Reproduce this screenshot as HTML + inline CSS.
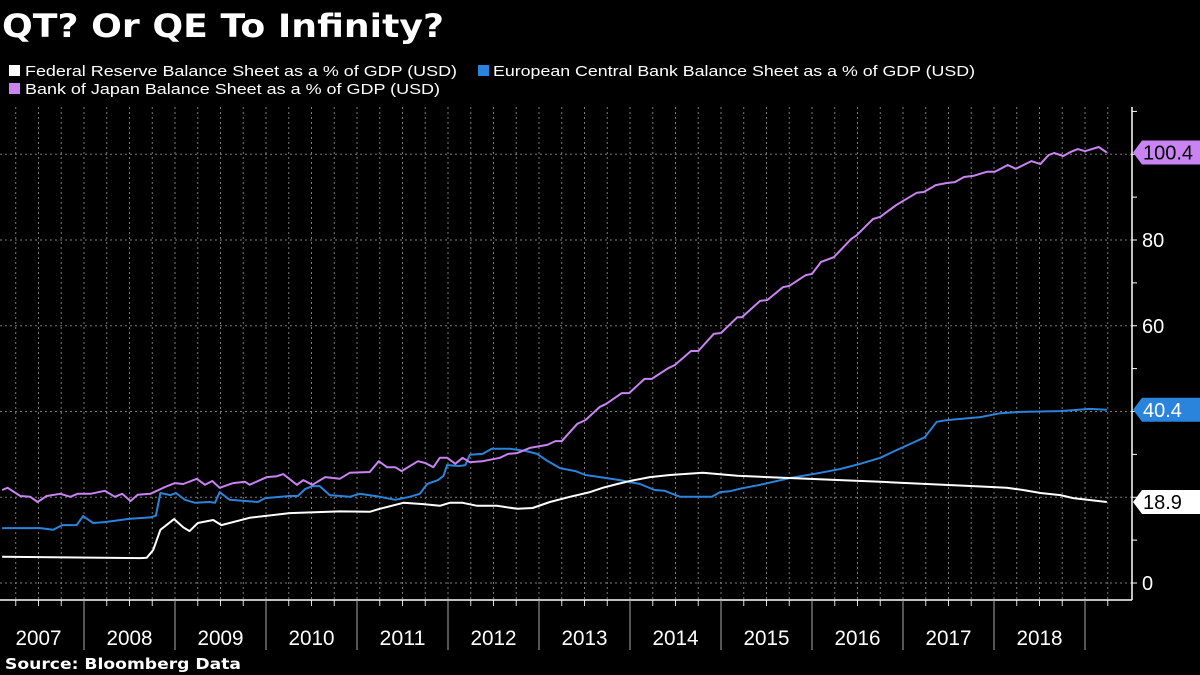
<!DOCTYPE html>
<html><head><meta charset="utf-8">
<style>
html,body{margin:0;padding:0;background:#000;}
svg{display:block;font-family:"Liberation Sans","DejaVu Sans",sans-serif;}
</style></head>
<body>
<svg id="chart" width="1200" height="675" viewBox="0 0 1200 675" xmlns="http://www.w3.org/2000/svg">
<rect width="1200" height="675" fill="#000"/>
<text x="2" y="37" fill="#fff" font-size="32" font-weight="bold" font-family="'DejaVu Sans', sans-serif" textLength="442" lengthAdjust="spacingAndGlyphs">QT? Or QE To Infinity?</text>
<g>
<g><rect x="9" y="65" width="11" height="11" fill="#fff"/><text x="25" y="76" fill="#fff" font-size="15" textLength="432" lengthAdjust="spacingAndGlyphs">Federal Reserve Balance Sheet as a % of GDP (USD)</text></g>
<g><rect x="478" y="65" width="11" height="11" fill="#2a84dc"/><text x="493" y="76" fill="#fff" font-size="15" textLength="482" lengthAdjust="spacingAndGlyphs">European Central Bank Balance Sheet as a % of GDP (USD)</text></g>
<g><rect x="9" y="83" width="11" height="11" fill="#c983f2"/><text x="25" y="94" fill="#fff" font-size="15" textLength="415" lengthAdjust="spacingAndGlyphs">Bank of Japan Balance Sheet as a % of GDP (USD)</text></g>
</g>
<g id="grid"></g>
<g id="xaxis"></g>
<g id="yaxis"></g>
<g id="series"></g>
<g id="tags"></g>
<text x="5" y="669" fill="#fff" font-size="15" font-weight="bold" font-family="'DejaVu Sans', sans-serif" textLength="236" lengthAdjust="spacingAndGlyphs">Source: Bloomberg Data</text>
</svg>
<script>
const years = [2007,2008,2009,2010,2011,2012,2013,2014,2015,2016,2017,2018];
const yTicks = [0,20,40,60,80];
const fedDates = [2007.10,2008.62,2008.69,2008.76,2008.84,2008.99,2009.09,2009.16,2009.25,2009.42,2009.51,2009.82,2010.26,2010.81,2011.14,2011.25,2011.51,2011.73,2011.91,2012.02,2012.16,2012.32,2012.54,2012.76,2012.93,2013.12,2013.34,2013.56,2013.70,2013.86,2014.00,2014.22,2014.44,2014.80,2015.18,2015.51,2015.95,2016.31,2016.75,2017.26,2017.77,2018.14,2018.32,2018.51,2018.73,2018.87,2019.24];
const fedValues = [6.1,5.8,5.9,7.7,12.4,14.9,13.0,12.1,14.0,14.7,13.5,15.2,16.3,16.7,16.6,17.3,18.7,18.4,18.0,18.7,18.7,18.0,18.0,17.3,17.5,18.9,20.1,21.2,22.2,23.1,23.8,24.7,25.2,25.7,25.0,24.7,24.3,24.0,23.6,23.1,22.6,22.2,21.7,21.0,20.5,19.8,18.9];
const ecbDates = [2007.10,2007.52,2007.66,2007.76,2007.92,2007.99,2008.10,2008.23,2008.51,2008.73,2008.79,2008.84,2008.95,2009.01,2009.11,2009.22,2009.38,2009.44,2009.49,2009.60,2009.91,2009.99,2010.26,2010.35,2010.43,2010.51,2010.59,2010.70,2010.92,2011.03,2011.25,2011.42,2011.58,2011.69,2011.77,2011.89,2011.95,2011.99,2012.13,2012.19,2012.24,2012.38,2012.48,2012.68,2012.85,2012.98,2013.09,2013.23,2013.40,2013.51,2013.67,2013.89,2014.11,2014.27,2014.38,2014.55,2014.90,2014.99,2015.10,2015.21,2015.43,2015.76,2016.09,2016.31,2016.53,2016.75,2016.93,2017.13,2017.24,2017.37,2017.48,2017.85,2018.07,2018.29,2018.73,2019.05,2019.24];
const ecbValues = [12.8,12.8,12.4,13.5,13.5,15.6,14.0,14.2,15.0,15.3,15.7,21.0,20.5,21.0,19.4,18.7,18.9,18.7,21.2,19.4,18.9,19.8,20.3,20.3,21.9,22.6,22.6,20.5,20.1,20.8,20.1,19.4,20.1,20.8,23.1,24.0,25.0,27.5,27.3,27.5,29.9,30.1,31.3,31.3,30.8,30.1,28.5,26.8,26.1,25.2,24.7,24.0,23.1,21.7,21.5,20.1,20.1,21.2,21.4,22.0,22.9,24.5,25.7,26.6,27.8,29.2,31.0,32.9,34.0,37.6,38.0,38.7,39.6,39.9,40.1,40.6,40.4];
const bojDates = [2007.10,2007.16,2007.30,2007.41,2007.49,2007.59,2007.74,2007.85,2007.93,2008.07,2008.23,2008.34,2008.42,2008.51,2008.59,2008.73,2008.89,2009.00,2009.09,2009.24,2009.33,2009.41,2009.49,2009.64,2009.77,2009.82,2010.01,2010.12,2010.19,2010.34,2010.41,2010.51,2010.65,2010.81,2010.92,2011.14,2011.24,2011.33,2011.42,2011.49,2011.67,2011.75,2011.84,2011.91,2011.99,2012.08,2012.16,2012.24,2012.38,2012.57,2012.66,2012.76,2012.90,2013.09,2013.18,2013.25,2013.42,2013.51,2013.67,2013.74,2013.91,2013.99,2014.16,2014.24,2014.42,2014.49,2014.67,2014.75,2014.92,2015.00,2015.18,2015.23,2015.43,2015.51,2015.68,2015.75,2015.93,2016.00,2016.10,2016.24,2016.43,2016.49,2016.67,2016.75,2016.93,2017.15,2017.23,2017.36,2017.48,2017.57,2017.67,2017.78,2017.92,2018.01,2018.15,2018.24,2018.41,2018.51,2018.60,2018.66,2018.76,2018.84,2018.92,2019.00,2019.15,2019.24];
const bojValues = [21.7,22.2,20.3,20.1,18.9,20.3,20.8,20.1,20.8,20.8,21.5,20.1,20.8,19.1,20.6,20.8,22.4,23.3,23.1,24.3,22.9,23.8,22.2,23.3,23.6,22.9,24.7,24.9,25.4,22.9,24.0,22.9,24.7,24.3,25.7,25.9,28.4,27.0,27.0,26.1,28.4,28.0,27.0,29.2,29.2,27.8,29.2,28.2,28.4,29.2,30.1,30.3,31.5,32.2,33.1,33.1,37.1,38.0,41.1,41.8,44.3,44.3,47.6,47.6,50.1,50.8,54.1,54.1,58.1,58.3,62.0,62.0,65.8,66.0,69.0,69.3,71.8,72.1,74.9,76.0,80.2,81.1,84.9,85.4,88.2,91.0,91.2,92.8,93.3,93.5,94.7,95.0,95.9,95.9,97.5,96.6,98.4,97.7,99.8,100.3,99.6,100.5,101.2,100.7,101.7,100.4];

const NS = "http://www.w3.org/2000/svg";
const X0 = 0, X1 = 1132, YTOP = 107, YBOT = 600;
function xs(t){ return 1085 + (t - 2019) * 91; }
function ys(v){ return 583 - v * 4.2875; }
function mk(tag, attrs, parent){
  const e = document.createElementNS(NS, tag);
  for (const k in attrs) e.setAttribute(k, attrs[k]);
  parent.appendChild(e); return e;
}
const grid = document.getElementById('grid');
const xaxis = document.getElementById('xaxis');
const yaxis = document.getElementById('yaxis');
for (let v = 0; v <= 100; v += 20){
  const l = mk('line', {x1:X0, x2:X1, y1:ys(v), y2:ys(v), stroke:'#7a7a7a', 'stroke-width':1, 'stroke-dasharray':'2,3'}, grid);
  
  
}
for (let q = 2007; q <= 2019.3; q += 0.25){
  const x = xs(q);
  if (x < 1 || x > 1110) continue;
  const l = mk('line', {x1:x, x2:x, y1:YTOP, y2:YBOT, stroke:'#7a7a7a', 'stroke-width':1, 'stroke-dasharray':'2,3'}, grid);
  
  
  const tk = mk('line', {x1:x, x2:x, y1:YBOT, y2:YBOT+6, stroke:'#ddd', 'stroke-width':1}, xaxis);
  
  
}
const xl = mk('line', {x1:0, x2:X1, y1:YBOT, y2:YBOT, stroke:'#fff', 'stroke-width':1.5}, xaxis);


years.forEach(function(yr){
  const xa = xs(yr + 1);
  const s = mk('line', {x1:xa, x2:xa, y1:YBOT, y2:650, stroke:'#aaa', 'stroke-width':1}, xaxis);
  
  
  const t = mk('text', {x:xs(yr + 0.5), y:645, fill:'#fff', 'font-size':21, 'text-anchor':'middle', textLength:46, lengthAdjust:'spacingAndGlyphs'}, xaxis);
  t.textContent = yr;
  
  
});
const yl = mk('line', {x1:X1, x2:X1, y1:YTOP, y2:YBOT, stroke:'#fff', 'stroke-width':1.5}, yaxis);


for (let v = 0; v <= 110; v += 10){
  const tk = mk('line', {x1:X1, x2:X1+5, y1:ys(v), y2:ys(v), stroke:'#fff', 'stroke-width':1}, yaxis);
  
  
}
yTicks.forEach(function(v){
  const t = mk('text', {x:1142, y:ys(v)+7, fill:'#fff', 'font-size':20}, yaxis);
  t.textContent = v;
  
  
});
const series = document.getElementById('series');
function drawLine(dates, vals, color, name){
  const pts = dates.map(function(d, i){ return xs(d).toFixed(1) + ',' + ys(vals[i]).toFixed(1); }).join(' ');
  const p = mk('polyline', {points:pts, fill:'none', stroke:color, 'stroke-width':2, 'stroke-linejoin':'round'}, series);
  
  
}
drawLine(ecbDates, ecbValues, '#2a84dc', 'ecb-line');
drawLine(fedDates, fedValues, '#ffffff', 'fed-line');
drawLine(bojDates, bojValues, '#c983f2', 'boj-line');
const tags = document.getElementById('tags');
function tag(v, color, textColor, name){
  const y = ys(v);
  const p = mk('polygon', {points:(X1+1)+','+y+' '+(X1+10)+','+(y-12)+' 1200,'+(y-12)+' 1200,'+(y+12)+' '+(X1+10)+','+(y+12), fill:color}, tags);
  
  
  const t = mk('text', {x:1143, y:y+7, fill:textColor, 'font-size':20}, tags);
  t.textContent = v.toFixed(1);
  
  
}
tag(bojValues[bojValues.length-1], '#c983f2', '#000', 'boj-value-tag');
tag(ecbValues[ecbValues.length-1], '#2a84dc', '#fff', 'ecb-value-tag');
tag(fedValues[fedValues.length-1], '#ffffff', '#000', 'fed-value-tag');
</script>
</body></html>
